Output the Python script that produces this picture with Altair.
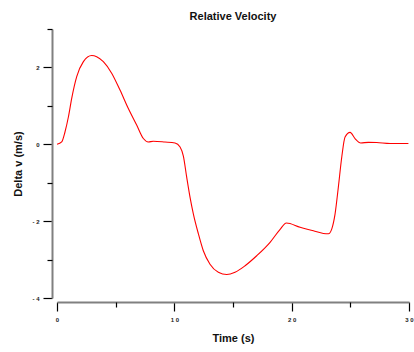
import altair as alt
import pandas as pd

time_s = [0, 0.4, 0.68, 0.97, 1.25, 1.68, 2.25, 2.96, 3.38, 3.95, 4.66, 5.37, 6.08,
          6.79, 7.36, 7.78, 8.21, 9.2, 10.06, 10.49, 10.77, 11.05, 11.34, 11.62,
          12.05, 12.47, 13.04, 13.75, 14.47, 15.17, 16.03, 17.02, 18.16, 19.0,
          19.55, 20.72, 21.85, 22.7, 23.13, 23.42, 23.70, 23.98, 24.27, 24.55,
          24.98, 25.4, 25.89, 26.54, 27.25, 28.39, 29.95]
delta_v = [0, 0.06, 0.32, 0.71, 1.19, 1.76, 2.15, 2.31, 2.28, 2.15, 1.85, 1.41, 0.93,
           0.50, 0.15, 0.06, 0.08, 0.06, 0.035, -0.07, -0.31, -0.85, -1.38, -1.81,
           -2.33, -2.77, -3.12, -3.33, -3.39, -3.33, -3.16, -2.90, -2.55, -2.22,
           -2.05, -2.16, -2.25, -2.32, -2.33, -2.20, -1.81, -1.11, -0.33, 0.19,
           0.31, 0.15, 0.035, 0.05, 0.045, 0.02, 0.02]

x_major = [0, 10, 20, 30]
x_minor = [5, 15, 25]
y_major = [-4, -2, 0, 2]
y_minor = [-3, -1, 1, 3]

df = pd.DataFrame({"t": time_s, "v": delta_v})

FONT = "Liberation Sans"
xscale = alt.Scale(domain=[0, 30], nice=False, zero=False)
yscale = alt.Scale(domain=[-4, 3], nice=False, zero=False)

x_lab = "datum.value >= 10 ? floor(datum.value/10) + ' ' + (datum.value % 10) : '' + datum.value"
y_lab = "datum.value < 0 ? '- ' + abs(datum.value) : '' + datum.value"

main = alt.Chart(df).mark_line(color="#ff0000", strokeWidth=1.1, interpolate="monotone").encode(
    x=alt.X("t:Q", scale=xscale, axis=alt.Axis(
        orient="bottom", values=x_major, tickSize=9, offset=4, labelExpr=x_lab,
        title="Time (s)", titleFont=FONT, titleFontSize=11, titleFontWeight="bold",
        titleColor="#111", titlePadding=10, labelPadding=5, labelFontSize=6,
        labelFont=FONT, labelFontWeight="bold", labelColor="#222",
        domainColor="#808080", domainWidth=2, tickColor="#000", tickWidth=1.2,
        grid=False, labelFlush=False)),
    y=alt.Y("v:Q", scale=yscale, axis=alt.Axis(
        orient="left", values=y_major, tickSize=9, offset=5, labelExpr=y_lab,
        title="Delta v (m/s)", titleFont=FONT, titleFontSize=11, titleFontWeight="bold",
        titleColor="#111", titlePadding=8, labelPadding=4, labelFontSize=6,
        labelFont=FONT, labelFontWeight="bold", labelColor="#222",
        domainColor="#808080", domainWidth=2, tickColor="#000", tickWidth=1.2,
        grid=False, labelFlush=False)),
)

minor = alt.Chart(df).mark_line(opacity=0).encode(
    x=alt.X("t:Q", scale=xscale, axis=alt.Axis(
        orient="bottom", values=x_minor, tickSize=5, offset=4, labels=False,
        title=None, domain=False, tickColor="#000", tickWidth=1.2, grid=False)),
    y=alt.Y("v:Q", scale=yscale, axis=alt.Axis(
        orient="left", values=y_minor, tickSize=5, offset=5, labels=False,
        title=None, domain=False, tickColor="#000", tickWidth=1.2, grid=False)),
)

chart = alt.layer(main, minor).resolve_axis(x="independent", y="independent").properties(
    width=352, height=269,
    title=alt.TitleParams("Relative Velocity", font=FONT, fontSize=11, fontWeight="bold",
                          color="#111", anchor="middle", offset=6),
    autosize=alt.AutoSizeParams(type="none"),
    padding={"left": 57, "top": 29, "right": 5, "bottom": 54},
    background="white",
).configure_view(stroke=None)

chart.save("out.html", embed_options={"renderer": "svg", "actions": False})
